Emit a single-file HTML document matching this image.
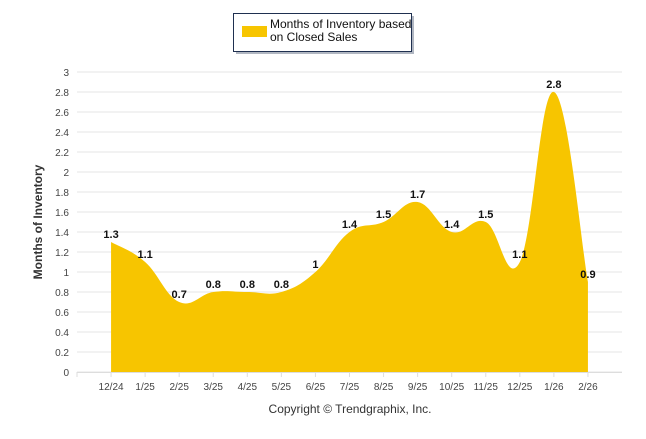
<!DOCTYPE html>
<html><head><meta charset="utf-8"><style>
body{margin:0;background:#fff;font-family:"Liberation Sans",sans-serif}
</style></head><body>
<svg width="646" height="434" xmlns="http://www.w3.org/2000/svg">
<g>
<rect x="234" y="14" width="178" height="38" fill="#1f3050" opacity="0.35" transform="translate(2,2)"/>
<rect x="233.5" y="13.5" width="178" height="38" fill="#fff" stroke="#1f3050"/>
<rect x="242" y="26" width="25" height="11" fill="#F7C500"/>
<text x="270" y="28" font-size="12" fill="#111">Months of Inventory based</text>
<text x="270" y="41" font-size="12" fill="#111">on Closed Sales</text>
</g>
<g id="grid"></g>
<g id="series"></g>
<g id="labels"></g>
<text transform="translate(42,222) rotate(-90)" text-anchor="middle" font-size="12" font-weight="bold" fill="#333">Months of Inventory</text>
<text x="350" y="413" text-anchor="middle" font-size="12" fill="#333">Copyright © Trendgraphix, Inc.</text>
</svg>
<script>
const categories=["12/24","1/25","2/25","3/25","4/25","5/25","6/25","7/25","8/25","9/25","10/25","11/25","12/25","1/26","2/26"];
const values=[1.3,1.1,0.7,0.8,0.8,0.8,1,1.4,1.5,1.7,1.4,1.5,1.1,2.8,0.9];
const yTicks=[0,0.2,0.4,0.6,0.8,1,1.2,1.4,1.6,1.8,2,2.2,2.4,2.6,2.8,3];
const NS="http://www.w3.org/2000/svg";
const L=77,R=622,Y0=372,Y1=72;
const step=(R-L)/(categories.length+1);
const x=i=>L+step*(i+1);
const y=v=>Y0-(v/3)*(Y0-Y1);
function mk(t,a,p){const e=document.createElementNS(NS,t);for(const k in a)e.setAttribute(k,a[k]);p.appendChild(e);return e;}
const g=document.getElementById('grid');
yTicks.forEach(t=>{
 const ln=mk('line',{x1:L,x2:R,y1:y(t),y2:y(t),stroke:'#e6e6e6'},g);
 
 
 const tx=mk('text',{x:69,y:y(t)+4,'text-anchor':'end','font-size':10,fill:'#444'},g);
 tx.textContent=String(t);
 
 
});
mk('line',{x1:L,x2:R,y1:Y0+0.5,y2:Y0+0.5,stroke:'#ddd'},g);
categories.forEach((c,i)=>{
 mk('line',{x1:x(i),x2:x(i),y1:Y0,y2:Y0+5,stroke:'#ddd'},g);
 const tx=mk('text',{x:x(i),y:Y0+18,'text-anchor':'middle','font-size':10,fill:'#444'},g);
 tx.textContent=c;
 
 
});
mk('line',{x1:L,x2:L,y1:Y0,y2:Y0+5,stroke:'#ddd'},g);
const pts=values.map((v,i)=>[x(i),y(v)]);
let d=`M${pts[0][0]},${Y0}L${pts[0][0]},${pts[0][1]}`;
for(let i=0;i<pts.length-1;i++){
 const p0=pts[Math.max(i-1,0)],p1=pts[i],p2=pts[i+1],p3=pts[Math.min(i+2,pts.length-1)];
 const k=0.2;
 const c1=[p1[0]+(p2[0]-p0[0])*k,p1[1]+(p2[1]-p0[1])*k];
 const c2=[p2[0]-(p3[0]-p1[0])*k,p2[1]-(p3[1]-p1[1])*k];
 d+=`C${c1[0]},${c1[1]} ${c2[0]},${c2[1]} ${p2[0]},${p2[1]}`;
}
d+=`L${pts[pts.length-1][0]},${Y0}Z`;
const area=mk('path',{d:d,fill:'#F7C500'},document.getElementById('series'));


const lb=document.getElementById('labels');
values.forEach((v,i)=>{
 const tx=mk('text',{x:x(i),y:y(v)-4,'text-anchor':'middle','font-size':11,'font-weight':'bold',fill:'#111'},lb);
 tx.textContent=String(v);
 
 
});
</script>
</body></html>
